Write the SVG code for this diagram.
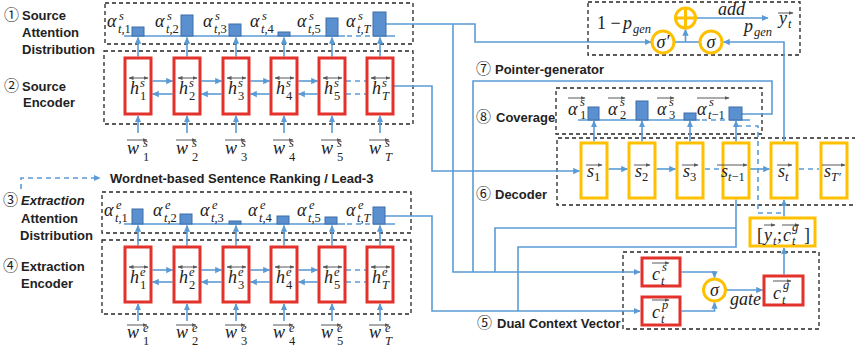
<svg xmlns="http://www.w3.org/2000/svg" width="855" height="351" viewBox="0 0 855 351">
<defs>
<style>
.c{fill:none;stroke:#5B9BD5;stroke-width:1.6}
.cd{fill:none;stroke:#5B9BD5;stroke-width:1.6;stroke-dasharray:5 4}
.bx{fill:none;stroke:#262626;stroke-width:1.3;stroke-dasharray:4 3}
.r{fill:#fff;stroke:#E3312B;stroke-width:3}
.o{fill:#fff;stroke:#FFC000;stroke-width:3}
.bar{fill:#5A8FD0;stroke:#3E6FA8;stroke-width:1}
.va{fill:none;stroke:#595959;stroke-width:1}
.m{font-family:"Liberation Serif",serif;font-style:italic;font-size:18px;fill:#222}
.u{font-family:"Liberation Serif",serif;font-style:normal;font-size:18px;fill:#222}
.s{font-size:12.5px;font-style:normal}
.i{font-style:italic}
.l{font-family:"Liberation Sans","Noto Sans CJK SC",sans-serif;font-weight:bold;font-size:13px;fill:#222}
.cn{font-family:"Noto Sans CJK SC","DejaVu Sans",sans-serif;font-weight:normal;font-size:15px}
</style>
<marker id="ar" viewBox="0 0 10 10" refX="9" refY="5" markerWidth="7" markerHeight="7" markerUnits="userSpaceOnUse" orient="auto"><path d="M0,0.5L10,5L0,9.5z" fill="#5B9BD5"/></marker>
<marker id="ga" viewBox="0 0 10 10" refX="9" refY="5" markerWidth="5" markerHeight="5" markerUnits="userSpaceOnUse" orient="auto-start-reverse"><path d="M0,1L10,5L0,9z" fill="#595959"/></marker>
</defs>
<rect width="855" height="351" fill="#fff"/>

<g id="labels">
<text class="l" y="20"><tspan class="cn" x="4">①</tspan><tspan x="22">Source</tspan></text>
<text class="l" x="22" y="37">Attention</text>
<text class="l" x="22" y="54">Distribution</text>
<text class="l" y="91"><tspan class="cn" x="4">②</tspan><tspan x="22">Source</tspan></text>
<text class="l" x="23" y="107">Encoder</text>
<text class="l" x="110" y="183">Wordnet-based Sentence Ranking / Lead-3</text>
<text class="l" y="205"><tspan class="cn" x="3">③</tspan><tspan x="21" font-style="italic">Extraction</tspan></text>
<text class="l" x="21" y="223">Attention</text>
<text class="l" x="20" y="240">Distribution</text>
<text class="l" y="271"><tspan class="cn" x="3">④</tspan><tspan x="21">Extraction</tspan></text>
<text class="l" x="21" y="288">Encoder</text>
<text class="l" y="74"><tspan class="cn" x="476">⑦</tspan><tspan x="495">Pointer-generator</tspan></text>
<text class="l" y="122"><tspan class="cn" x="476">⑧</tspan><tspan x="496">Coverage</tspan></text>
<text class="l" y="199"><tspan class="cn" x="476">⑥</tspan><tspan x="495">Decoder</tspan></text>
<text class="l" y="328"><tspan class="cn" x="477">⑤</tspan><tspan x="497">Dual Context Vector</tspan></text>
</g>

<g id="boxes">
<rect class="bx" x="105" y="3" width="308" height="41"/>
<rect class="bx" x="104" y="51" width="309" height="73"/>
<rect class="bx" x="102" y="192" width="309" height="41"/>
<rect class="bx" x="102" y="240" width="309" height="74"/>
<rect class="bx" x="588" y="2" width="212" height="53"/>
<rect class="bx" x="556" y="88" width="206" height="46"/>
<path class="bx" d="M856,138H557V205H856"/>
<rect class="bx" x="623" y="252" width="196" height="77"/>
</g>

<g id="connectors">
<path class="cd" d="M21,189V178H100" marker-end="url(#ar)"/>
<g marker-end="url(#ar)">
<path class="c" d="M138,56.5V37.5"/><path class="c" d="M187,56.5V37.5"/><path class="c" d="M236,56.5V37.5"/><path class="c" d="M284,56.5V37.5"/><path class="c" d="M332,56.5V37.5"/><path class="c" d="M380,56.5V37.5"/>
<path class="c" d="M138,133V116"/><path class="c" d="M187,133V116"/><path class="c" d="M236,133V116"/><path class="c" d="M284,133V116"/><path class="c" d="M332,133V116"/><path class="c" d="M380,133V116"/>
<path class="c" d="M152.5,81H172.5"/><path class="c" d="M201.5,81H221.5"/><path class="c" d="M250.5,81H269.5"/><path class="c" d="M298.5,81H317.5"/>
<path class="c" d="M172.5,94H152.5"/><path class="c" d="M221.5,94H201.5"/><path class="c" d="M269.5,94H250.5"/><path class="c" d="M317.5,94H298.5"/>
</g>
<path class="cd" d="M346,81H366M346,94H366"/>
<g marker-end="url(#ar)">
<path class="c" d="M138,245.5V225.5"/><path class="c" d="M187,245.5V225.5"/><path class="c" d="M236,245.5V225.5"/><path class="c" d="M284,245.5V225.5"/><path class="c" d="M332,245.5V225.5"/><path class="c" d="M380,245.5V225.5"/>
<path class="c" d="M138,321V304"/><path class="c" d="M187,321V304"/><path class="c" d="M236,321V304"/><path class="c" d="M284,321V304"/><path class="c" d="M332,321V304"/><path class="c" d="M380,321V304"/>
<path class="c" d="M152.5,270H172.5"/><path class="c" d="M201.5,270H221.5"/><path class="c" d="M250.5,270H269.5"/><path class="c" d="M298.5,270H317.5"/>
<path class="c" d="M172.5,282H152.5"/><path class="c" d="M221.5,282H201.5"/><path class="c" d="M269.5,282H250.5"/><path class="c" d="M317.5,282H298.5"/>
</g>
<path class="cd" d="M346,270H366M346,282H366"/>
<path class="c" d="M386,24H475V42H651" marker-end="url(#ar)"/>
<path class="c" d="M453,24V272H640" marker-end="url(#ar)"/>
<path class="c" d="M393.5,86H432V171H579.5" marker-end="url(#ar)"/>
<path class="c" d="M385,216H432V311H640" marker-end="url(#ar)"/>
<path class="c" d="M742,114H772V81H473V272"/>
<path class="c" d="M736,199.5V247H518V311"/>
<path class="c" d="M736,228H495V272"/>
<path class="c" d="M674,42H700"/>
<path class="c" d="M685.5,42V29.5" marker-end="url(#ar)"/>
<path class="c" d="M697,18H768" marker-end="url(#ar)"/>
<path class="c" d="M784,141.5V42H723.5" marker-end="url(#ar)"/>
<g marker-end="url(#ar)">
<path class="c" d="M594,141.5V121"/><path class="c" d="M642,141.5V121"/><path class="c" d="M690,141.5V121"/><path class="c" d="M736,141.5V121"/>
</g>
<g marker-end="url(#ar)">
<path class="c" d="M608.5,169H627.5"/><path class="c" d="M656.5,169H675.5"/><path class="c" d="M749.5,169H769.5"/>
<path class="c" d="M784,216.5V200"/>
<path class="c" d="M784,274.5V248"/>
<path class="c" d="M681.5,272H714.5V277.5"/>
<path class="c" d="M681.5,311H714.5V302.5"/>
<path class="c" d="M726.5,290H762.5"/>
</g>
<path class="cd" d="M705,169H721M799,169H819"/>
<path class="cd" d="M737,126H758V213H784"/>
</g>

<g id="src-attn">
<path class="c" d="M124,36H345M373,36H395"/>
<path class="cd" d="M347,36H371"/>
<rect class="bar" x="132" y="27" width="12" height="9"/>
<rect class="bar" x="181" y="15" width="12" height="21"/>
<rect class="bar" x="229" y="24" width="12" height="12"/>
<rect class="bar" x="278" y="32" width="12" height="4"/>
<rect class="bar" x="326" y="18" width="12" height="18"/>
<rect class="bar" x="373" y="12" width="13" height="24"/>
<text class="m" x="107" y="27">α<tspan class="s i" x="119" y="20">s</tspan><tspan class="s" x="118" y="33"><tspan class="i">t</tspan>,1</tspan></text>
<text class="m" x="155" y="27">α<tspan class="s i" x="167" y="20">s</tspan><tspan class="s" x="166" y="33"><tspan class="i">t</tspan>,2</tspan></text>
<text class="m" x="203" y="27">α<tspan class="s i" x="215" y="20">s</tspan><tspan class="s" x="214" y="33"><tspan class="i">t</tspan>,3</tspan></text>
<text class="m" x="250" y="27">α<tspan class="s i" x="262" y="20">s</tspan><tspan class="s" x="261" y="33"><tspan class="i">t</tspan>,4</tspan></text>
<text class="m" x="297" y="27">α<tspan class="s i" x="309" y="20">s</tspan><tspan class="s" x="308" y="33"><tspan class="i">t</tspan>,5</tspan></text>
<text class="m" x="346" y="27">α<tspan class="s i" x="358" y="20">s</tspan><tspan class="s i" x="357" y="33">t,T</tspan></text>
</g>

<g id="src-enc">
<g id="hs1"><rect class="r" x="125" y="58" width="26" height="56"/><path class="va" d="M129,78H148" marker-start="url(#ga)" marker-end="url(#ga)"/><text class="m" x="130" y="94">h<tspan class="s i" x="140" y="87">s</tspan><tspan class="s" x="140" y="100">1</tspan></text></g>
<g id="hs2"><rect class="r" x="174" y="58" width="26" height="56"/><path class="va" d="M178,78H197" marker-start="url(#ga)" marker-end="url(#ga)"/><text class="m" x="179" y="94">h<tspan class="s i" x="189" y="87">s</tspan><tspan class="s" x="189" y="100">2</tspan></text></g>
<g id="hs3"><rect class="r" x="223" y="58" width="26" height="56"/><path class="va" d="M227,78H246" marker-start="url(#ga)" marker-end="url(#ga)"/><text class="m" x="228" y="94">h<tspan class="s i" x="238" y="87">s</tspan><tspan class="s" x="238" y="100">3</tspan></text></g>
<g id="hs4"><rect class="r" x="271" y="58" width="26" height="56"/><path class="va" d="M275,78H294" marker-start="url(#ga)" marker-end="url(#ga)"/><text class="m" x="276" y="94">h<tspan class="s i" x="286" y="87">s</tspan><tspan class="s" x="286" y="100">4</tspan></text></g>
<g id="hs5"><rect class="r" x="319" y="58" width="26" height="56"/><path class="va" d="M323,78H342" marker-start="url(#ga)" marker-end="url(#ga)"/><text class="m" x="324" y="94">h<tspan class="s i" x="334" y="87">s</tspan><tspan class="s" x="334" y="100">5</tspan></text></g>
<g id="hsT"><rect class="r" x="367" y="58" width="26" height="56"/><path class="va" d="M371,78H390" marker-start="url(#ga)" marker-end="url(#ga)"/><text class="m" x="372" y="94">h<tspan class="s i" x="382" y="87">s</tspan><tspan class="s i" x="382" y="100">T</tspan></text></g>
</g>

<g id="src-in">
<g><path class="va" d="M127,140H147" marker-end="url(#ga)"/><text class="m" x="127" y="154">w<tspan class="s i" x="143" y="147">s</tspan><tspan class="s" x="143" y="161">1</tspan></text></g>
<g><path class="va" d="M176,140H196" marker-end="url(#ga)"/><text class="m" x="176" y="154">w<tspan class="s i" x="192" y="147">s</tspan><tspan class="s" x="192" y="161">2</tspan></text></g>
<g><path class="va" d="M225,140H245" marker-end="url(#ga)"/><text class="m" x="225" y="154">w<tspan class="s i" x="241" y="147">s</tspan><tspan class="s" x="241" y="161">3</tspan></text></g>
<g><path class="va" d="M273,140H293" marker-end="url(#ga)"/><text class="m" x="273" y="154">w<tspan class="s i" x="289" y="147">s</tspan><tspan class="s" x="289" y="161">4</tspan></text></g>
<g><path class="va" d="M321,140H341" marker-end="url(#ga)"/><text class="m" x="321" y="154">w<tspan class="s i" x="337" y="147">s</tspan><tspan class="s" x="337" y="161">5</tspan></text></g>
<g><path class="va" d="M369,140H389" marker-end="url(#ga)"/><text class="m" x="369" y="154">w<tspan class="s i" x="385" y="147">s</tspan><tspan class="s i" x="385" y="161">T</tspan></text></g>
</g>

<g id="ext-attn">
<path class="c" d="M124,224H345M373,224H395"/>
<path class="cd" d="M347,224H371"/>
<rect class="bar" x="132" y="209" width="11" height="15"/>
<rect class="bar" x="180" y="214" width="12" height="10"/>
<rect class="bar" x="229" y="221" width="12" height="3"/>
<rect class="bar" x="277" y="216" width="12" height="8"/>
<rect class="bar" x="325" y="217" width="12" height="7"/>
<rect class="bar" x="373" y="207" width="12" height="17"/>
<text class="m" x="104" y="216">α<tspan class="s i" x="116" y="209">e</tspan><tspan class="s" x="115" y="222"><tspan class="i">t</tspan>,1</tspan></text>
<text class="m" x="153" y="216">α<tspan class="s i" x="165" y="209">e</tspan><tspan class="s" x="164" y="222"><tspan class="i">t</tspan>,2</tspan></text>
<text class="m" x="200" y="216">α<tspan class="s i" x="212" y="209">e</tspan><tspan class="s" x="211" y="222"><tspan class="i">t</tspan>,3</tspan></text>
<text class="m" x="248" y="216">α<tspan class="s i" x="260" y="209">e</tspan><tspan class="s" x="259" y="222"><tspan class="i">t</tspan>,4</tspan></text>
<text class="m" x="297" y="216">α<tspan class="s i" x="309" y="209">e</tspan><tspan class="s" x="308" y="222"><tspan class="i">t</tspan>,5</tspan></text>
<text class="m" x="346" y="216">α<tspan class="s i" x="358" y="209">e</tspan><tspan class="s i" x="357" y="222">t,T</tspan></text>
</g>

<g id="ext-enc">
<g id="he1"><rect class="r" x="125" y="247" width="26" height="55"/><path class="va" d="M129,267H148" marker-start="url(#ga)" marker-end="url(#ga)"/><text class="m" x="130" y="283">h<tspan class="s i" x="140" y="276">e</tspan><tspan class="s" x="140" y="289">1</tspan></text></g>
<g id="he2"><rect class="r" x="174" y="247" width="26" height="55"/><path class="va" d="M178,267H197" marker-start="url(#ga)" marker-end="url(#ga)"/><text class="m" x="179" y="283">h<tspan class="s i" x="189" y="276">e</tspan><tspan class="s" x="189" y="289">2</tspan></text></g>
<g id="he3"><rect class="r" x="223" y="247" width="26" height="55"/><path class="va" d="M227,267H246" marker-start="url(#ga)" marker-end="url(#ga)"/><text class="m" x="228" y="283">h<tspan class="s i" x="238" y="276">e</tspan><tspan class="s" x="238" y="289">3</tspan></text></g>
<g id="he4"><rect class="r" x="271" y="247" width="26" height="55"/><path class="va" d="M275,267H294" marker-start="url(#ga)" marker-end="url(#ga)"/><text class="m" x="276" y="283">h<tspan class="s i" x="286" y="276">e</tspan><tspan class="s" x="286" y="289">4</tspan></text></g>
<g id="he5"><rect class="r" x="319" y="247" width="26" height="55"/><path class="va" d="M323,267H342" marker-start="url(#ga)" marker-end="url(#ga)"/><text class="m" x="324" y="283">h<tspan class="s i" x="334" y="276">e</tspan><tspan class="s" x="334" y="289">5</tspan></text></g>
<g id="heT"><rect class="r" x="367" y="247" width="26" height="55"/><path class="va" d="M371,267H390" marker-start="url(#ga)" marker-end="url(#ga)"/><text class="m" x="372" y="283">h<tspan class="s i" x="382" y="276">e</tspan><tspan class="s i" x="382" y="289">T</tspan></text></g>
</g>

<g id="ext-in">
<g><path class="va" d="M127,325H147" marker-end="url(#ga)"/><text class="m" x="127" y="338">w<tspan class="s i" x="143" y="332">e</tspan><tspan class="s" x="143" y="345">1</tspan></text></g>
<g><path class="va" d="M176,325H196" marker-end="url(#ga)"/><text class="m" x="176" y="338">w<tspan class="s i" x="192" y="332">e</tspan><tspan class="s" x="192" y="345">2</tspan></text></g>
<g><path class="va" d="M225,325H245" marker-end="url(#ga)"/><text class="m" x="225" y="338">w<tspan class="s i" x="241" y="332">e</tspan><tspan class="s" x="241" y="345">3</tspan></text></g>
<g><path class="va" d="M273,325H293" marker-end="url(#ga)"/><text class="m" x="273" y="338">w<tspan class="s i" x="289" y="332">e</tspan><tspan class="s" x="289" y="345">4</tspan></text></g>
<g><path class="va" d="M321,325H341" marker-end="url(#ga)"/><text class="m" x="321" y="338">w<tspan class="s i" x="337" y="332">e</tspan><tspan class="s" x="337" y="345">5</tspan></text></g>
<g><path class="va" d="M369,325H389" marker-end="url(#ga)"/><text class="m" x="369" y="338">w<tspan class="s i" x="385" y="332">e</tspan><tspan class="s i" x="385" y="345">T</tspan></text></g>
</g>

<g id="pointer-gen">
<text class="u" x="597" y="29">1 −<tspan class="i" x="623" y="29">p</tspan><tspan class="s i" x="633" y="33">gen</tspan></text>
<g id="sigma-prime"><circle class="o" cx="663" cy="42" r="11"/><text class="m" x="663" y="48" text-anchor="middle">σ′</text></g>
<g id="sigma-gen"><circle class="o" cx="711" cy="42" r="11"/><text class="m" x="711" y="48" text-anchor="middle">σ</text></g>
<g id="plus"><circle class="o" cx="685.5" cy="18" r="10"/><path d="M675.5,18H695.5M685.5,8V28" stroke="#FFC000" stroke-width="3"/></g>
<text class="m" x="718" y="15" font-size="16">add</text>
<g id="yt"><path class="va" d="M778,13H793" marker-end="url(#ga)"/><text class="m" x="779" y="24">y<tspan class="s i" x="788" y="28">t</tspan></text></g>
<text class="m" x="744" y="32">p<tspan class="s i" x="754" y="36">gen</tspan></text>
</g>

<g id="coverage">
<path class="c" d="M578,120H700M729,120H750"/>
<path class="cd" d="M702,120H727"/>
<rect class="bar" x="588" y="107" width="11" height="13"/>
<rect class="bar" x="636" y="101" width="12" height="19"/>
<rect class="bar" x="684" y="113" width="12" height="7"/>
<rect class="bar" x="729" y="107" width="13" height="13"/>
<path class="va" d="M568,98H585" marker-end="url(#ga)"/>
<path class="va" d="M608,98H625" marker-end="url(#ga)"/>
<path class="va" d="M657,98H674" marker-end="url(#ga)"/>
<path class="va" d="M697,98H729" marker-end="url(#ga)"/>
<text class="m" x="568" y="115">α<tspan class="s i" x="580" y="106">s</tspan><tspan class="s" x="580" y="119">1</tspan></text>
<text class="m" x="608" y="115">α<tspan class="s i" x="620" y="106">s</tspan><tspan class="s" x="620" y="119">2</tspan></text>
<text class="m" x="657" y="115">α<tspan class="s i" x="669" y="106">s</tspan><tspan class="s" x="669" y="119">3</tspan></text>
<text class="m" x="697" y="115">α<tspan class="s i" x="709" y="106">s</tspan><tspan class="s" x="708" y="119"><tspan class="i">t</tspan>−1</tspan></text>
</g>

<g id="decoder">
<g id="s1"><rect class="o" x="581" y="143" width="26" height="55"/><path class="va" d="M586,165H602" marker-end="url(#ga)"/><text class="m" x="587" y="177">s<tspan class="s" x="594" y="181">1</tspan></text></g>
<g id="s2"><rect class="o" x="629" y="143" width="26" height="55"/><path class="va" d="M634,165H650" marker-end="url(#ga)"/><text class="m" x="635" y="177">s<tspan class="s" x="642" y="181">2</tspan></text></g>
<g id="s3"><rect class="o" x="677" y="143" width="26" height="55"/><path class="va" d="M682,165H698" marker-end="url(#ga)"/><text class="m" x="683" y="177">s<tspan class="s" x="690" y="181">3</tspan></text></g>
<g id="stm1"><rect class="o" x="723" y="143" width="26" height="55"/><path class="va" d="M717,165H747" marker-end="url(#ga)"/><text class="m" x="721" y="177">s<tspan class="s" x="728" y="181"><tspan class="i">t</tspan>−1</tspan></text></g>
<g id="st"><rect class="o" x="771" y="143" width="26" height="55"/><path class="va" d="M777,165H792" marker-end="url(#ga)"/><text class="m" x="778" y="177">s<tspan class="s i" x="785" y="181">t</tspan></text></g>
<g id="sT"><rect class="o" x="821" y="143" width="26" height="55"/><path class="va" d="M822,165H845" marker-end="url(#ga)"/><text class="m" x="824" y="177">s<tspan class="s i" x="831" y="181">T′</tspan></text></g>
</g>

<g id="yc">
<rect class="o" x="750" y="218" width="65" height="28"/>
<path class="va" d="M764,225H775" marker-end="url(#ga)"/>
<path class="va" d="M782,225H799" marker-end="url(#ga)"/>
<text class="u" x="757" y="241">[<tspan class="i" x="764" y="241">y</tspan><tspan class="s i" x="773" y="245">t</tspan><tspan x="777" y="241">;</tspan><tspan class="i" x="783" y="241">c</tspan><tspan class="s i" x="792" y="231">g</tspan><tspan class="s i" x="792" y="245">t</tspan><tspan x="804" y="241">]</tspan></text>
</g>

<g id="dual-context">
<g id="cs"><rect class="r" x="642" y="258" width="38" height="28"/><path class="va" d="M652,263H669" marker-end="url(#ga)"/><text class="m" x="652" y="280">c<tspan class="s i" x="662" y="271">s</tspan><tspan class="s i" x="661" y="285">t</tspan></text></g>
<g id="cp"><rect class="r" x="642" y="297" width="38" height="28"/><path class="va" d="M652,300H669" marker-end="url(#ga)"/><text class="m" x="652" y="318">c<tspan class="s i" x="662" y="309">p</tspan><tspan class="s i" x="661" y="323">t</tspan></text></g>
<g id="gate-sigma"><circle class="o" cx="714.5" cy="290" r="11"/><text class="m" x="714.5" y="296" text-anchor="middle">σ</text></g>
<text class="m" x="730" y="305" font-size="17">gate</text>
<g id="cg"><rect class="r" x="764" y="276" width="39" height="29"/><path class="va" d="M773,281H791" marker-end="url(#ga)"/><text class="m" x="773" y="299">c<tspan class="s i" x="783" y="289">g</tspan><tspan class="s i" x="782" y="304">t</tspan></text></g>
</g>
</svg>
